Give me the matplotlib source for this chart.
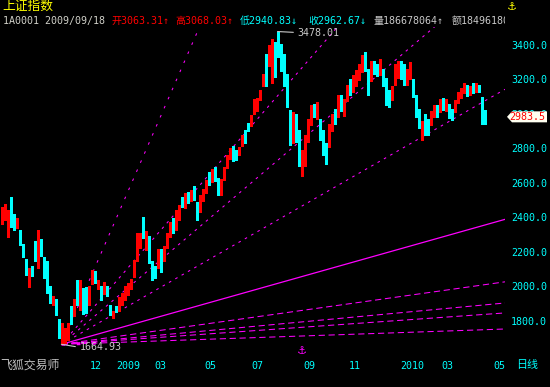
import matplotlib
matplotlib.use("Agg")
import matplotlib.pyplot as plt
from matplotlib.patches import Polygon
from matplotlib.transforms import blended_transform_factory, Bbox

plt.rcParams['font.family'] = ['DejaVu Sans Mono', 'Noto Sans CJK SC']

# ---------------- data ----------------
opens = [2380, 2400, 2300, 2500, 2400, 2350, 2320, 2235, 2150, 2010,
         2100, 2255, 2120, 2260, 2130, 2140, 1995, 1895, 1920, 1805,
         1690, 1680, 1700, 1880, 1835, 2035, 1870, 1980, 1985, 1900,
         2020, 2085, 1990, 2000, 1960, 1995, 1880, 1825, 1880, 1865,
         1900, 1930, 1960, 1990, 2060, 2150, 2235, 2390, 2215, 2285,
         2135, 2100, 2120, 2210, 2150, 2230, 2290, 2385, 2330, 2390,
         2515, 2460, 2540, 2500, 2570, 2480, 2440, 2500, 2545, 2655,
         2610, 2680, 2620, 2545, 2620, 2690, 2745, 2810, 2780, 2770,
         2820, 2905, 2945, 2935, 3005, 3030, 3085, 3170, 3330, 3290,
         3320, 3410, 3460, 3400, 3340, 3225, 3020, 2840, 2990, 2900,
         2660, 2710, 2850, 2940, 3050, 2980, 2960, 2900, 2820, 2820,
         2910, 3015, 2990, 3100, 3000, 3080, 3195, 3140, 3170, 3200,
         3250, 3350, 3250, 3200, 3305, 3270, 3230, 3250, 3200, 3100,
         3090, 3175, 3220, 3300, 3270, 3180, 3210, 3190, 3100, 3020,
         2870, 2990, 2940, 2940, 2990, 3040, 3020, 3080, 3030, 3050,
         3020, 3020, 3070, 3100, 3130, 3160, 3115, 3170, 3130, 3160,
         3090, 3010]
highs = [2462, 2480, 2445, 2520, 2420, 2395, 2330, 2245, 2160, 2110,
         2120, 2265, 2330, 2275, 2170, 2145, 2000, 1945, 1925, 1810,
         1790, 1760, 1790, 1885, 1930, 2040, 2040, 1990, 1995, 2000,
         2095, 2090, 2040, 2005, 2025, 2000, 1890, 1860, 1885, 1940,
         1965, 2000, 2020, 2045, 2155, 2310, 2310, 2402, 2320, 2290,
         2145, 2120, 2215, 2215, 2235, 2310, 2375, 2395, 2445, 2475,
         2520, 2540, 2545, 2560, 2580, 2490, 2530, 2565, 2620, 2665,
         2680, 2690, 2630, 2625, 2695, 2765, 2805, 2815, 2790, 2810,
         2880, 2910, 2950, 2995, 3085, 3090, 3140, 3230, 3345, 3400,
         3435, 3420, 3478.01, 3405, 3345, 3230, 3025, 3010, 3000, 2910,
         2790, 2880, 2970, 3050, 3060, 3068, 2970, 2910, 2830, 2940,
         3000, 3030, 3110, 3110, 3085, 3170, 3200, 3225, 3255, 3290,
         3340, 3361, 3260, 3310, 3310, 3290, 3320, 3260, 3210, 3140,
         3165, 3290, 3310, 3310, 3290, 3260, 3300, 3200, 3110, 3030,
         2960, 3000, 2970, 3020, 3050, 3050, 3085, 3090, 3085, 3060,
         3030, 3080, 3130, 3150, 3180, 3170, 3165, 3180, 3180, 3170,
         3100, 3025]
lows = [2365, 2385, 2285, 2345, 2330, 2340, 2240, 2170, 2065, 1995,
        2060, 2150, 2110, 2175, 2050, 1960, 1905, 1890, 1835, 1700,
        1664.93, 1672, 1690, 1780, 1830, 1890, 1865, 1840, 1845, 1890,
        2015, 2020, 1985, 1920, 1955, 1945, 1835, 1818, 1850, 1860,
        1890, 1920, 1950, 1985, 2055, 2145, 2225, 2280, 2210, 2135,
        2037, 2050, 2110, 2085, 2145, 2225, 2285, 2310, 2325, 2385,
        2460, 2455, 2485, 2495, 2500, 2385, 2430, 2495, 2540, 2590,
        2605, 2610, 2530, 2530, 2615, 2685, 2740, 2725, 2735, 2765,
        2815, 2830, 2900, 2930, 3000, 3020, 3080, 3160, 3165, 3280,
        3180, 3215, 3330, 3250, 3160, 3040, 2820, 2830, 2840, 2700,
        2639, 2700, 2840, 2935, 2985, 2970, 2850, 2760, 2712, 2810,
        2900, 2940, 2985, 3020, 2990, 3075, 3110, 3130, 3165, 3195,
        3245, 3250, 3110, 3190, 3230, 3220, 3225, 3160, 3050, 3040,
        3080, 3170, 3210, 3200, 3170, 3170, 3200, 3100, 2985, 2920,
        2850, 2880, 2880, 2935, 2985, 2980, 3010, 3025, 3020, 2975,
        2965, 3010, 3065, 3095, 3120, 3105, 3110, 3120, 3125, 3125,
        2940, 2940]
closes = [2450, 2465, 2440, 2360, 2375, 2385, 2250, 2180, 2075, 2100,
          2080, 2160, 2320, 2185, 2060, 1965, 1915, 1935, 1845, 1710,
          1760, 1745, 1785, 1790, 1920, 1895, 2000, 1850, 1880, 1985,
          2090, 2030, 2035, 1925, 2015, 1955, 1840, 1850, 1860, 1935,
          1960, 1995, 2015, 2035, 2150, 2300, 2300, 2290, 2300, 2140,
          2040, 2060, 2210, 2090, 2225, 2305, 2370, 2315, 2440, 2470,
          2465, 2530, 2490, 2555, 2505, 2390, 2525, 2560, 2615, 2600,
          2670, 2620, 2540, 2615, 2690, 2755, 2800, 2730, 2740, 2805,
          2870, 2840, 2905, 2990, 3075, 3080, 3135, 3225, 3180, 3390,
          3425, 3250, 3340, 3260, 3170, 3050, 2830, 2990, 2850, 2720,
          2780, 2870, 2960, 3040, 2990, 3045, 2860, 2770, 2730, 2930,
          2990, 2950, 3100, 3040, 3075, 3165, 3120, 3215, 3250, 3280,
          3330, 3260, 3120, 3300, 3240, 3230, 3310, 3170, 3060, 3050,
          3160, 3280, 3300, 3210, 3180, 3250, 3290, 3110, 2990, 2930,
          2950, 2920, 2890, 3010, 3040, 2990, 3070, 3030, 3075, 2990,
          2975, 3075, 3120, 3145, 3170, 3110, 3150, 3130, 3165, 3130,
          2950, 2983.5]

month_pos = [29.3, 38.1, 51.0, 67.7, 83.4, 100.7, 115.6, 132.8, 146.6, 164.1]
month_labels = ['12', '2009', '03', '05', '07', '09', '11', '2010', '03', '05']
price_ticks = [1800, 2000, 2200, 2400, 2600, 2800, 3000, 3200, 3400]

# gann fan from the low: slope in points per bar
fan_slopes = [40.0, 20.0, 14.8, 10.0, 4.9, 2.45, 1.62, 1.23, 0.6]
fan_styles = ['s1', 'd', 'd', 'd', 'solid', 'l', 'l', 'l', 'l']

header = [("1A0001 2009/09/18", "#d0d0c8", 3),
          ("开3063.31↑", "#ff0000", 112),
          ("高3068.03↑", "#ff0000", 175),
          ("低2940.83↓", "#00ffff", 240),
          ("收2962.67↓", "#00ffff", 308),
          ("量186678064↑", "#c8c8c8", 374),
          ("额1849618048", "#c8c8c8", 452)]

# ---------------- figure ----------------
W, H = 550, 387
fig = plt.figure(figsize=(W / 100, H / 100), dpi=100, facecolor='black')

def fx(px):
    return px / W

def fy(py):
    return 1 - py / H

ax_l, ax_r, ax_t, ax_b = 0, 505, 27, 352
ax = fig.add_axes([fx(ax_l), fy(ax_b), fx(ax_r - ax_l), (ax_b - ax_t) / H])
ax.set_facecolor('black')
for s in ax.spines.values():
    s.set_visible(False)
ax.set_xlim(-0.5, (ax_r - 1.5) / 3)
ax.set_ylim(1620.3, 3504.3)

n = len(closes)
idx = list(range(n))
RED, CYAN, MAG = '#ff0000', '#00ffff', '#ff00ff'
cols = [RED if c >= o else CYAN for o, c in zip(opens, closes)]

ax.vlines(idx, lows, highs, colors=cols, lw=0.75, antialiased=False, zorder=3)
bot = [min(o, c) for o, c in zip(opens, closes)]
hgt = [max(abs(c - o), 6) for o, c in zip(opens, closes)]
ax.bar(idx, hgt, bottom=bot, width=0.6, color=cols, linewidth=0,
       antialiased=False, zorder=3)

# gann fan
i_low = lows.index(min(lows))
p_low = lows[i_low]
x_end = ax.get_xlim()[1]
dash = {'s1': (2.5, 7), 'd': (2.5, 4.5), 'l': (6, 3.5)}
for sl, st in zip(fan_slopes, fan_styles):
    xs = [i_low, x_end]
    ys = [p_low, p_low + sl * (x_end - i_low)]
    if st == 'solid':
        ax.plot(xs, ys, color=MAG, lw=0.9, zorder=2)
    else:
        ax.plot(xs, ys, color=MAG, lw=0.75, dashes=dash[st], zorder=2)
# heavy marks along the base near the low
ax.plot([i_low, i_low + 14], [p_low, p_low + 0.6 * 14], color=MAG, lw=2.2,
        dashes=(1.2, 3.8), zorder=2)

# high / low labels
i_high = highs.index(max(highs))
ax.annotate(f"{highs[i_high]:.2f}", xy=(i_high, highs[i_high]), xytext=(20, -1),
            textcoords='offset pixels', color='#c8c8c8', fontsize=7.2, va='center',
            arrowprops=dict(arrowstyle='-', color='#c8c8c8', lw=0.8,
                            shrinkA=1, shrinkB=0, relpos=(0, 0.5)))
ax.annotate(f"{p_low:.2f}", xy=(i_low, p_low), xytext=(18, -3),
            textcoords='offset pixels', color='#c8c8c8', fontsize=7.2, va='center',
            arrowprops=dict(arrowstyle='-', color='#c8c8c8', lw=0.8,
                            shrinkA=1, shrinkB=0, relpos=(0, 0.5)))

# axes ticks (3000.0 sits under the last-price flag, as in the source)
ax.yaxis.tick_right()
ax.set_yticks(price_ticks)
ax.set_yticklabels([f"{v:.1f}" for v in price_ticks])
ax.tick_params(axis='y', length=0, pad=4.5, labelsize=7.2, labelcolor=CYAN)
ax.set_xticks(month_pos)
ax.set_xticklabels(month_labels, ha='left')
ax.tick_params(axis='x', length=0, pad=6.5, labelsize=7.2, labelcolor=CYAN)

# last price flag
last = closes[-1]
tr = blended_transform_factory(ax.transAxes, ax.transData)
ppx = (ax.get_ylim()[1] - ax.get_ylim()[0]) / (ax_b - ax_t)
x0, x1, x2 = 507 / ax_r, 512 / ax_r, 547 / ax_r
hh = 5.5 * ppx
flag = Polygon([(x0, last), (x1, last + hh), (x2, last + hh), (x2, last - hh), (x1, last - hh)],
               closed=True, transform=tr, facecolor='#fffff0', edgecolor='none',
               clip_on=False, zorder=10)
ax.add_patch(flag)
ax.text(509 / ax_r, last, f"{last:.1f}", transform=tr, color=RED, fontsize=7.2,
        va='center', ha='left', clip_on=False, zorder=11)

# header and footer text
fig.text(fx(2), fy(6), "上证指数", color='#ffff00', fontsize=9.2, va='center',
         family=['Noto Sans CJK SC', 'DejaVu Sans'])
clip = Bbox.from_extents(0, 0, 505, H)
for txt, c, x in header:
    t = fig.text(fx(x), fy(21), txt, color=c, fontsize=7.2, va='center')
    t.set_clip_box(clip)
    t.set_clip_on(True)
fig.text(fx(0), fy(365), "飞狐交易师", color='#c0c0c0', fontsize=8.6, va='center',
         family=['Noto Sans CJK SC', 'DejaVu Sans'])
fig.text(fx(516), fy(365), "日线", color=CYAN, fontsize=7.9, va='center',
         family=['Noto Sans CJK SC', 'DejaVu Sans'])
fig.text(fx(512), fy(7), "⚓", color='#ffff00', fontsize=8, va='center', ha='center',
         family=['DejaVu Sans'])
fig.text(fx(302), fy(351), "⚓", color=MAG, fontsize=8, va='center', ha='center',
         family=['DejaVu Sans'])

fig.savefig("out.png", dpi=100, facecolor='black')
